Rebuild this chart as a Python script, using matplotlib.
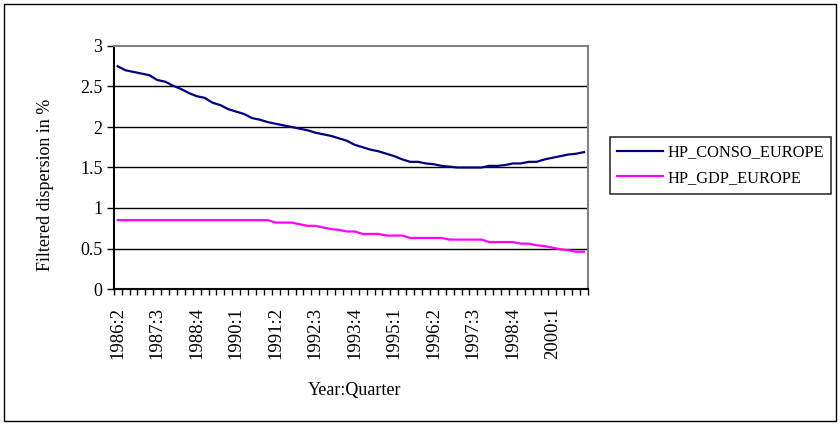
import numpy as np
import matplotlib
matplotlib.use("Agg")
import matplotlib.pyplot as plt
from matplotlib.patches import Rectangle

plt.rcParams['font.family'] = ['Liberation Serif', 'DejaVu Serif']

# quarters 1986:2 .. 2001:1
quarters = []
y, q = 1986, 2
for i in range(60):
    quarters.append("%d:%d" % (y, q))
    q += 1
    if q > 4:
        q = 1
        y += 1

conso = [2.75, 2.70, 2.68, 2.66, 2.64, 2.58, 2.56, 2.51, 2.47, 2.42,
         2.38, 2.36, 2.30, 2.27, 2.22, 2.19, 2.16, 2.11, 2.09, 2.06,
         2.04, 2.02, 2.00, 1.98, 1.96, 1.93, 1.91, 1.89, 1.86, 1.83,
         1.78, 1.75, 1.72, 1.70, 1.67, 1.64, 1.60, 1.57, 1.57, 1.55,
         1.54, 1.52, 1.51, 1.50, 1.50, 1.50, 1.50, 1.52, 1.52, 1.53,
         1.55, 1.55, 1.57, 1.57, 1.60, 1.62, 1.64, 1.66, 1.67, 1.69]
gdp = [0.85] * 20 + [0.82, 0.82, 0.82, 0.80, 0.78, 0.78, 0.76, 0.74, 0.73, 0.71,
                     0.71, 0.68, 0.68, 0.68, 0.66, 0.66, 0.66, 0.63, 0.63, 0.63,
                     0.63, 0.63, 0.61, 0.61, 0.61, 0.61, 0.61, 0.58, 0.58, 0.58,
                     0.58, 0.56, 0.56, 0.54, 0.53, 0.51, 0.49, 0.48, 0.46, 0.46]

fig = plt.figure(figsize=(8.4, 4.25), dpi=100)
ax = fig.add_axes([113.7 / 840, 136 / 425, (588 - 113.7) / 840, 243 / 425])

x = np.arange(len(quarters))
ax.plot(x, conso, color='#000080', lw=1.6, label='HP_CONSO_EUROPE')
ax.plot(x, gdp, color='#FF00FF', lw=1.6, label='HP_GDP_EUROPE')

ax.set_xlim(-0.5, len(quarters) - 0.5)
ax.set_ylim(0, 3)
ax.set_yticks(np.arange(0, 3.01, 0.5))
ax.set_yticklabels(['0', '0.5', '1', '1.5', '2', '2.5', '3'], fontsize=13)
for g in np.arange(0.5, 2.6, 0.5):
    ax.axhline(g, color='black', lw=1, zorder=0)

# category boundaries as tick marks, labels every 5 quarters
ax.set_xticks(np.arange(-0.5, len(quarters), 1))
ax.set_xticklabels([])
ax.set_xticks(x[::5], minor=True)
ax.set_xticklabels(quarters[::5], minor=True, rotation=90, fontsize=13.5)
ax.tick_params(axis='x', which='major', length=4, width=1, direction='out')
ax.tick_params(axis='x', which='minor', length=0, pad=13)
ax.tick_params(axis='y', length=5, width=1, direction='out', pad=3)

for s in ['left', 'bottom']:
    ax.spines[s].set_color('black')
    ax.spines[s].set_linewidth(1.5)
for s in ['top', 'right']:
    ax.spines[s].set_color('#808080')
    ax.spines[s].set_linewidth(1.5)

fig.text(46 / 840, 1 - 185 / 425, 'Filtered dispersion in %', rotation=90,
         ha='center', va='center', fontsize=13)
fig.text(355 / 840, 1 - 390 / 425, 'Year:Quarter', ha='center', va='center', fontsize=13)

leg = ax.legend(loc='upper left', bbox_to_anchor=(610 / 840, 1 - 137 / 425),
                bbox_transform=fig.transFigure, fontsize=11.8, frameon=True,
                fancybox=False, edgecolor='black', handlelength=2.8,
                borderpad=0.45, labelspacing=0.6, handletextpad=0.25,
                borderaxespad=0)
leg.get_frame().set_linewidth(1.2)

fig.patches.append(Rectangle((4 / 840, 4 / 425), 832 / 840, 417 / 425,
                             transform=fig.transFigure, fill=False,
                             edgecolor='black', lw=1))

fig.savefig('out.png', dpi=100)
